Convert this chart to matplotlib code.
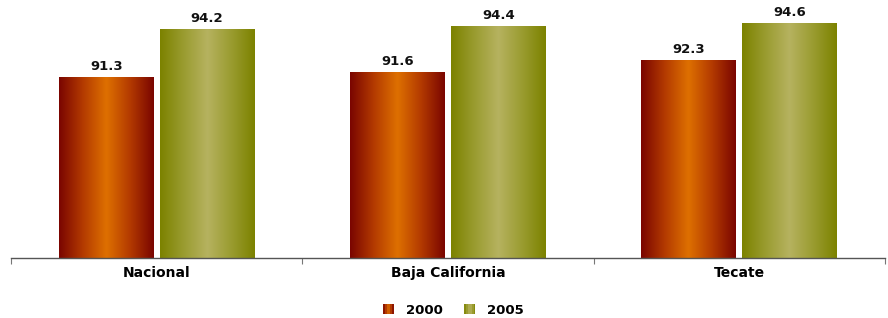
import numpy as np
import matplotlib
matplotlib.use("Agg")
import matplotlib.pyplot as plt
from matplotlib.colors import LinearSegmentedColormap
from matplotlib.patches import Rectangle
from matplotlib.legend_handler import HandlerBase

categories = ["Nacional", "Baja California", "Tecate"]
series_names = ["2000", "2005"]
values_2000 = [91.3, 91.6, 92.3]
values_2005 = [94.2, 94.4, 94.6]

plt.rcParams['font.family'] = ['DejaVu Sans']

fig = plt.figure(figsize=(8.88, 3.18), dpi=100)
ax = fig.add_axes([11/888, 60/318, 874/888, 258/318])

cmap_red = LinearSegmentedColormap.from_list(
    "red", ["#7a0500", "#b33a00", "#de7000", "#b33a00", "#7a0500"])
cmap_olive = LinearSegmentedColormap.from_list(
    "olive", ["#7c8200", "#9a9c30", "#b6b260", "#9a9c30", "#7c8200"])

x = np.arange(len(categories))
w = 0.326
off = 0.173
ymin, ymax = 80.2, 96.0

grad = np.linspace(0, 1, 256).reshape(1, -1)

FS = 9.5

def draw(vals, pos, cmap):
    bars = ax.bar(pos, [v - ymin for v in vals], width=w, bottom=ymin,
                  color="none", edgecolor="none")
    for b, v in zip(bars, vals):
        x0, y0 = b.get_x(), b.get_y()
        im = ax.imshow(grad, cmap=cmap, aspect="auto",
                       extent=[x0, x0 + b.get_width(), y0, y0 + b.get_height()],
                       zorder=2, interpolation="bicubic")
        im.set_clip_path(b)
        ax.text(x0 + b.get_width() / 2, v + 0.25, f"{v:.1f}", ha="center",
                va="bottom", fontsize=FS, fontweight="bold", color="#111111")
    return bars

draw(values_2000, x - off, cmap_red)
draw(values_2005, x + off, cmap_olive)

ax.set_xlim(-0.5, 2.5)
ax.set_ylim(ymin, ymax)
for s in ["top", "right", "left"]:
    ax.spines[s].set_visible(False)
ax.spines["bottom"].set_color("#555555")
ax.spines["bottom"].set_linewidth(1.0)
ax.set_yticks([])
ax.set_xticks([-0.5, 0.5, 1.5, 2.5])
ax.set_xticklabels([])
ax.tick_params(axis="x", length=4, color="#777777", direction="out")
ax.set_xticks(x, minor=True)
ax.set_xticklabels(categories, minor=True, fontsize=10, fontweight="bold")
ax.tick_params(axis="x", which="minor", length=0, pad=6)


class GradHandler(HandlerBase):
    def __init__(self, cmap):
        super().__init__()
        self.cmap = cmap

    def create_artists(self, legend, orig_handle, xdescent, ydescent, width,
                       height, fontsize, trans):
        n = 6
        arts = []
        for i in range(n):
            r = Rectangle((-xdescent + i * width / n, -ydescent), width / n, height,
                          facecolor=self.cmap((i + 0.5) / n), edgecolor="none",
                          transform=trans)
            arts.append(r)
        return arts


h1 = Rectangle((0, 0), 1, 1)
h2 = Rectangle((0, 0), 1, 1)
fig.legend([h1, h2], series_names, loc="center", bbox_to_anchor=(453/888, 1 - 310/318),
           ncol=2, frameon=False, prop={"weight": "bold", "size": FS},
           handler_map={h1: GradHandler(cmap_red), h2: GradHandler(cmap_olive)},
           handlelength=0.9, handleheight=0.8, columnspacing=1.6, handletextpad=0.85)

fig.savefig("out.png", dpi=100)
